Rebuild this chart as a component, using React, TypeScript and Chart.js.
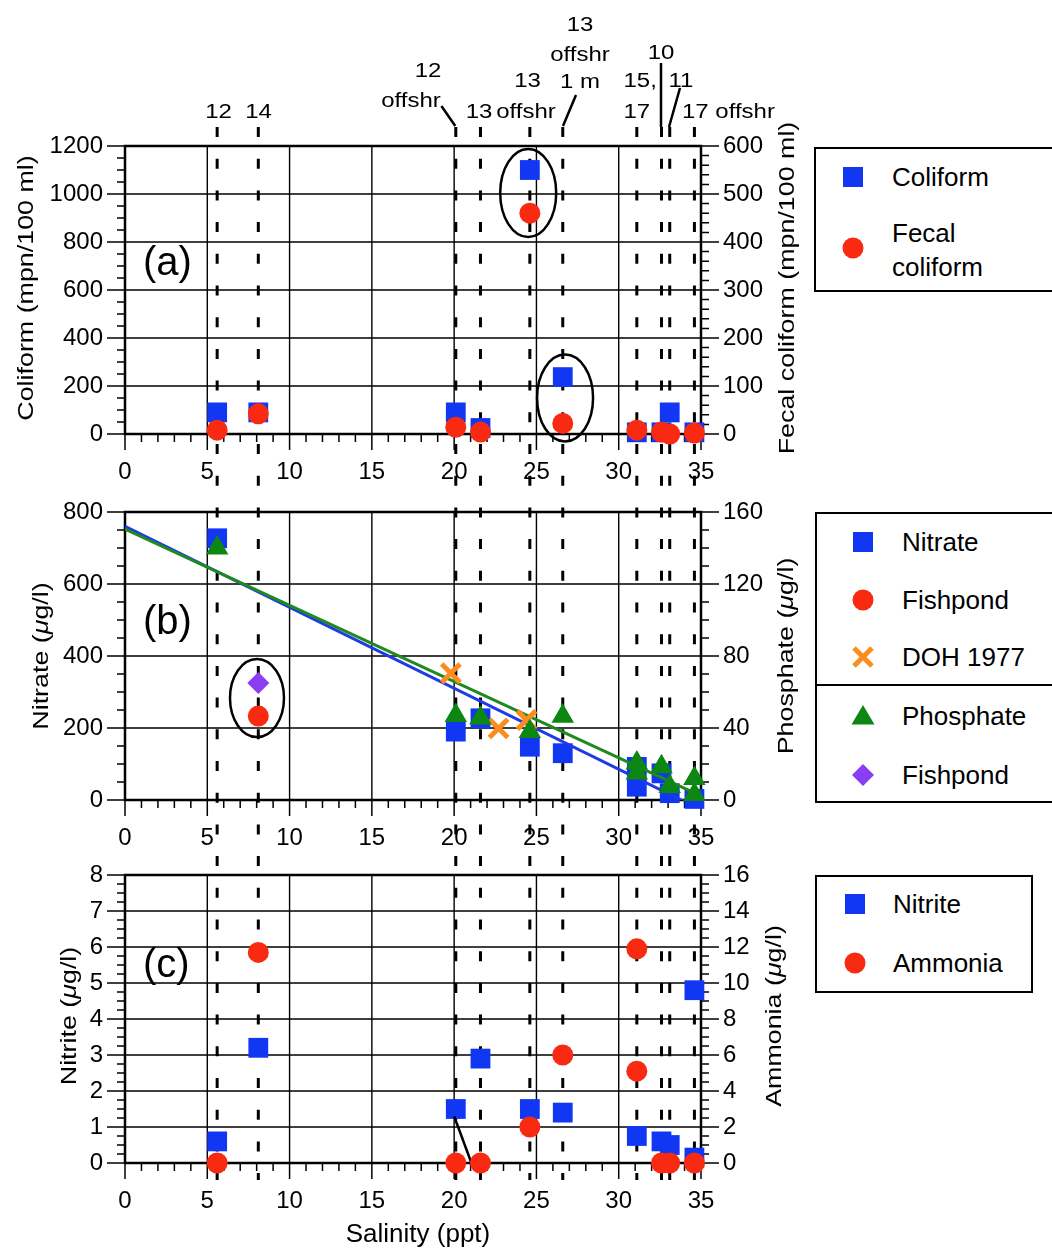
import React, { useEffect, useRef } from 'react';
import { Chart, registerables } from 'chart.js';

Chart.register(...registerables);

const FONT = '"Liberation Sans", Arial, Helvetica, sans-serif';
const BLUE = '#1237f2';
const RED = '#f82a12';
const ORANGE = '#fd8c20';
const GREEN = '#0e8712';
const PURPLE = '#8b3df2';
const LINE_BLUE = '#1e3ce6';
const LINE_GREEN = '#1f8a1f';

// ---------- data ----------
const salinityTicks = [0, 5, 10, 15, 20, 25, 30, 35];
const stationSalinity = [5.6, 8.1, 20.1, 21.6, 24.6, 26.6, 31.1, 32.6, 33.1, 34.6];

// panel (a)
const coliformX = [5.6, 8.1, 20.1, 21.6, 24.6, 26.6, 31.1, 32.6, 33.1, 34.6];
const coliformY = [90, 90, 90, 25, 1100, 237, 7, 7, 90, 7];
const fecalX = [5.6, 8.1, 20.1, 21.6, 24.6, 26.6, 31.1, 32.6, 33.1, 34.6];
const fecalY = [8, 42, 14, 4, 460, 22, 8, 4, 0, 2];

// panel (b)
const nitrateX = [5.6, 20.1, 21.6, 24.6, 26.6, 31.1, 31.1, 32.6, 33.1, 34.6];
const nitrateY = [727, 190, 227, 148, 130, 92, 37, 74, 19, 3];
const fishpondNitrateX = [8.1];
const fishpondNitrateY = [233];
const doh1977X = [19.8, 22.7, 24.4];
const doh1977Y = [352, 199, 222];
const phosphateX = [5.6, 20.1, 21.6, 24.6, 26.6, 31.1, 31.1, 32.6, 33.1, 34.6, 34.6];
const phosphateY = [140, 47, 45.5, 38, 46.5, 20.5, 15, 18.5, 7.5, 12, 3];
const fishpondPhosphateX = [8.1];
const fishpondPhosphateY = [65];
const nitrateFitX = [0, 34.6];
const nitrateFitY = [760, -18];
const phosphateFitX = [0, 34.6];
const phosphateFitY = [150.5, 4];

// panel (c)
const nitriteX = [5.6, 8.1, 20.1, 21.6, 24.6, 26.6, 31.1, 32.6, 33.1, 34.6, 34.6];
const nitriteY = [0.6, 3.2, 1.5, 2.9, 1.5, 1.4, 0.75, 0.6, 0.5, 4.8, 0.15];
const ammoniaX = [5.6, 8.1, 20.1, 21.6, 24.6, 26.6, 31.1, 31.1, 32.6, 33.1, 34.6];
const ammoniaY = [0, 11.7, 0, 0, 2, 6, 11.9, 5.1, 0, 0, 0];
const connectorX = [20.0, 21.05];
const connectorY = [1.3, 0];

// station labels above panel (a)
const stationLabelText = ['12', '14', '12', 'offshr', '13', '13', 'offshr', '13', 'offshr', '1 m', '15,', '17', '10', '11', '17 offshr'];

// ---------- layout ----------
const CW = 810;
const PLOT_LEFT = 125;
const PLOT_RIGHT = 701;
const DASH_TOP = 127;
const DASH_ON = 10;
const DASH_PERIOD = 31.7;

const stationLabelLayout = [
  { x: 218.5, y: 118, a: 'center' },
  { x: 258.6, y: 118, a: 'center' },
  { x: 428, y: 77, a: 'center' },
  { x: 411, y: 107, a: 'center' },
  { x: 479, y: 118, a: 'center' },
  { x: 527.5, y: 87, a: 'center' },
  { x: 526, y: 118, a: 'center' },
  { x: 580, y: 31, a: 'center' },
  { x: 580, y: 61, a: 'center' },
  { x: 580, y: 88, a: 'center' },
  { x: 623.5, y: 87, a: 'left' },
  { x: 623.5, y: 118, a: 'left' },
  { x: 661, y: 59, a: 'center' },
  { x: 681, y: 87, a: 'center' },
  { x: 682, y: 118, a: 'left' },
];
const leaderLines = [
  [441.4, 106, 455.3, 126],
  [576, 95, 563, 126],
  [661, 63, 661, 127],
  [680, 88, 669, 127],
];

type Seg = { t: string; i?: boolean };
type Ell = { x: number; y: number; rx: number; ry: number };

interface PanelSpec {
  key: string;
  top: number;
  height: number;
  areaTop: number;
  areaBottom: number;
  dashFrom: number;
  dashTo: number;
  yMax: number;
  yStep: number;
  yMinor: number;
  y2Max: number;
  y2Step: number;
  y2Minor: number;
  datasets: any[];
  leftTitle: Seg[];
  leftTitleX: number;
  rightTitle: Seg[];
  rightTitleX: number;
  titleCY: number;
  label: string;
  labelCY: number;
  ellipses: Ell[];
  topLabels?: boolean;
  xTitle?: boolean;
}

const pts = (xs: number[], ys: number[]) => xs.map((x, i) => ({ x, y: ys[i] }));

const sq = (label: string, xs: number[], ys: number[], order: number, yAxisID = 'y') => ({
  label, data: pts(xs, ys), yAxisID, order, clip: false,
  pointStyle: 'rect', pointRadius: 14, backgroundColor: BLUE, borderColor: BLUE, borderWidth: 0,
});
const circ = (label: string, xs: number[], ys: number[], order: number, yAxisID = 'y', color = RED) => ({
  label, data: pts(xs, ys), yAxisID, order, clip: false,
  pointStyle: 'circle', pointRadius: 10.5, backgroundColor: color, borderColor: color, borderWidth: 0,
});

function drawRich(
  ctx: CanvasRenderingContext2D, segs: Seg[], x: number, y: number, size: number,
  rotate: boolean, stretch = 1,
) {
  ctx.save();
  ctx.translate(x, y);
  if (rotate) ctx.rotate(-Math.PI / 2);
  ctx.scale(stretch, 1);
  let total = 0;
  const widths: number[] = [];
  for (const s of segs) {
    ctx.font = `${s.i ? 'italic ' : ''}${size}px ${FONT}`;
    const w = ctx.measureText(s.t).width;
    widths.push(w);
    total += w;
  }
  let cx = -total / 2;
  ctx.textBaseline = 'middle';
  ctx.textAlign = 'left';
  ctx.fillStyle = '#000';
  segs.forEach((s, i) => {
    ctx.font = `${s.i ? 'italic ' : ''}${size}px ${FONT}`;
    ctx.fillText(s.t, cx, 0);
    cx += widths[i];
  });
  ctx.restore();
}

function makePlugin(spec: PanelSpec) {
  return {
    id: 'frame_' + spec.key,
    beforeDatasetsDraw(chart: any) {
      const ctx: CanvasRenderingContext2D = chart.ctx;
      const { left, right, top, bottom } = chart.chartArea;
      const xs = chart.scales.x;
      const y1 = chart.scales.y;
      const y2 = chart.scales.y2;
      ctx.save();
      ctx.strokeStyle = '#000';
      // grid lines
      ctx.lineWidth = 1.4;
      ctx.beginPath();
      for (const v of salinityTicks) {
        if (v <= 0 || v >= 35) continue;
        const px = xs.getPixelForValue(v);
        ctx.moveTo(px, top);
        ctx.lineTo(px, bottom);
      }
      const nY = Math.round(spec.yMax / spec.yStep);
      for (let i = 1; i < nY; i++) {
        const py = y1.getPixelForValue(i * spec.yStep);
        ctx.moveTo(left, py);
        ctx.lineTo(right, py);
      }
      ctx.stroke();
      // tick marks
      ctx.lineWidth = 1.5;
      ctx.beginPath();
      const nL = Math.round(spec.yMax / spec.yMinor);
      const perL = Math.round(spec.yStep / spec.yMinor);
      for (let i = 0; i <= nL; i++) {
        const py = y1.getPixelForValue(i * spec.yMinor);
        const len = i % perL === 0 ? 18 : 8;
        ctx.moveTo(left - len, py);
        ctx.lineTo(left, py);
      }
      const nR = Math.round(spec.y2Max / spec.y2Minor);
      const perR = Math.round(spec.y2Step / spec.y2Minor);
      for (let i = 0; i <= nR; i++) {
        const py = y2.getPixelForValue(i * spec.y2Minor);
        const len = i % perR === 0 ? 18 : 8;
        ctx.moveTo(right, py);
        ctx.lineTo(right + len, py);
      }
      for (let v = 0; v <= 35; v++) {
        const px = xs.getPixelForValue(v);
        const len = v % 5 === 0 ? 16 : 8;
        ctx.moveTo(px, bottom);
        ctx.lineTo(px, bottom + len);
      }
      ctx.stroke();
      // dashed station lines across the whole figure
      const gStart = spec.dashFrom;
      const gEnd = spec.dashTo;
      if (gEnd > gStart) {
        ctx.lineWidth = 3;
        ctx.setLineDash([DASH_ON, DASH_PERIOD - DASH_ON]);
        ctx.lineDashOffset = ((gStart - DASH_TOP) % DASH_PERIOD + DASH_PERIOD) % DASH_PERIOD;
        ctx.beginPath();
        for (const s of stationSalinity) {
          const px = xs.getPixelForValue(s);
          ctx.moveTo(px, gStart - spec.top);
          ctx.lineTo(px, gEnd - spec.top);
        }
        ctx.stroke();
        ctx.setLineDash([]);
      }
      // frame
      ctx.lineWidth = 2.5;
      ctx.strokeRect(left, top, right - left, bottom - top);
      ctx.restore();
    },
    afterDatasetsDraw(chart: any) {
      const ctx: CanvasRenderingContext2D = chart.ctx;
      const xs = chart.scales.x;
      const y1 = chart.scales.y;
      ctx.save();
      ctx.strokeStyle = '#000';
      ctx.lineWidth = 2.5;
      for (const e of spec.ellipses) {
        ctx.beginPath();
        ctx.ellipse(xs.getPixelForValue(e.x), y1.getPixelForValue(e.y), e.rx, e.ry, 0, 0, Math.PI * 2);
        ctx.stroke();
      }
      ctx.restore();
    },
    afterDraw(chart: any) {
      const ctx: CanvasRenderingContext2D = chart.ctx;
      const { left, right } = chart.chartArea;
      const off = spec.top;
      drawRich(ctx, spec.leftTitle, spec.leftTitleX, spec.titleCY - off, 22, true, 1.22);
      drawRich(ctx, spec.rightTitle, spec.rightTitleX, spec.titleCY - off, 22, true, 1.22);
      ctx.save();
      ctx.fillStyle = '#000';
      ctx.font = `40px ${FONT}`;
      ctx.textAlign = 'left';
      ctx.textBaseline = 'middle';
      ctx.fillText(spec.label, left + 18, spec.labelCY - off);
      ctx.restore();
      if (spec.xTitle) {
        drawRich(ctx, [{ t: 'Salinity (ppt)' }], (left + right) / 2 + 5, 1235 - off, 26, false);
      }
      if (spec.topLabels) {
        ctx.save();
        ctx.fillStyle = '#000';
        ctx.font = `24px ${FONT}`;
        ctx.textBaseline = 'alphabetic';
        stationLabelText.forEach((t, i) => {
          const l = stationLabelLayout[i];
          ctx.save();
          ctx.translate(l.x, l.y - off);
          ctx.scale(1, 0.87);
          ctx.textAlign = l.a as CanvasTextAlign;
          ctx.fillText(t, 0, 0);
          ctx.restore();
        });
        ctx.strokeStyle = '#000';
        ctx.lineWidth = 2.5;
        ctx.beginPath();
        for (const [x1, yA, x2, yB] of leaderLines) {
          ctx.moveTo(x1, yA - off);
          ctx.lineTo(x2, yB - off);
        }
        ctx.stroke();
        ctx.restore();
      }
    },
  };
}

const plainTick = (v: any) => String(v);

function buildConfig(spec: PanelSpec): any {
  const tickFont = { family: FONT, size: 24 };
  const grid = { display: false, drawTicks: false };
  return {
    type: 'scatter',
    data: { datasets: spec.datasets },
    options: {
      responsive: false,
      animation: false,
      events: [],
      layout: { padding: { top: spec.areaTop - spec.top, left: 0, right: 0, bottom: 0 } },
      plugins: { legend: { display: false }, tooltip: { enabled: false } },
      scales: {
        x: {
          type: 'linear', position: 'bottom', min: 0, max: 35,
          ticks: { stepSize: 5, font: tickFont, color: '#000', padding: 24, maxRotation: 0, autoSkip: false, callback: plainTick },
          grid, border: { display: false },
          afterFit: (s: any) => { s.height = spec.top + spec.height - spec.areaBottom; },
        },
        y: {
          type: 'linear', position: 'left', min: 0, max: spec.yMax,
          ticks: { stepSize: spec.yStep, font: tickFont, color: '#000', padding: 22, callback: plainTick },
          grid, border: { display: false },
          afterFit: (s: any) => { s.width = PLOT_LEFT; },
        },
        y2: {
          type: 'linear', position: 'right', min: 0, max: spec.y2Max,
          ticks: { stepSize: spec.y2Step, font: tickFont, color: '#000', padding: 22, callback: plainTick },
          grid, border: { display: false },
          afterFit: (s: any) => { s.width = CW - PLOT_RIGHT; },
        },
      },
    },
    plugins: [makePlugin(spec)],
  };
}

const specA: PanelSpec = {
  key: 'a', top: 0, height: 490, areaTop: 146, areaBottom: 434, dashFrom: 127, dashTo: 490,
  yMax: 1200, yStep: 200, yMinor: 50, y2Max: 600, y2Step: 100, y2Minor: 20,
  datasets: [
    circ('Fecal coliform', fecalX, fecalY, 0, 'y2'),
    sq('Coliform', coliformX, coliformY, 1),
  ],
  leftTitle: [{ t: 'Coliform (mpn/100 ml)' }], leftTitleX: 27,
  rightTitle: [{ t: 'Fecal coliform (mpn/100 ml)' }], rightTitleX: 788,
  titleCY: 288, label: '(a)', labelCY: 264,
  ellipses: [
    { x: 24.5, y: 1004, rx: 28, ry: 44 },
    { x: 26.74, y: 150, rx: 28, ry: 43.5 },
  ],
  topLabels: true,
};

const specB: PanelSpec = {
  key: 'b', top: 452, height: 398, areaTop: 512, areaBottom: 800, dashFrom: 490, dashTo: 850,
  yMax: 800, yStep: 200, yMinor: 50, y2Max: 160, y2Step: 40, y2Minor: 10,
  datasets: [
    {
      label: 'Phosphate', data: pts(phosphateX, phosphateY), yAxisID: 'y2', order: 0, clip: false,
      pointStyle: 'triangle', pointRadius: 13, backgroundColor: GREEN, borderColor: GREEN, borderWidth: 0,
    },
    {
      label: 'Fishpond phosphate', data: pts(fishpondPhosphateX, fishpondPhosphateY), yAxisID: 'y2', order: 1, clip: false,
      pointStyle: 'rectRot', pointRadius: 11, backgroundColor: PURPLE, borderColor: PURPLE, borderWidth: 0,
    },
    {
      label: 'DOH 1977', data: pts(doh1977X, doh1977Y), yAxisID: 'y', order: 2, clip: false,
      pointStyle: 'crossRot', pointRadius: 13, backgroundColor: ORANGE, borderColor: ORANGE, borderWidth: 5,
    },
    {
      label: 'Phosphate fit', data: pts(phosphateFitX, phosphateFitY), yAxisID: 'y2', order: 3,
      showLine: true, pointRadius: 0, borderColor: LINE_GREEN, borderWidth: 3,
    },
    {
      label: 'Nitrate fit', data: pts(nitrateFitX, nitrateFitY), yAxisID: 'y', order: 4,
      showLine: true, pointRadius: 0, borderColor: LINE_BLUE, borderWidth: 3,
    },
    circ('Fishpond nitrate', fishpondNitrateX, fishpondNitrateY, 5, 'y'),
    sq('Nitrate', nitrateX, nitrateY, 6),
  ],
  leftTitle: [{ t: 'Nitrate (' }, { t: 'μ', i: true }, { t: 'g/l)' }], leftTitleX: 42,
  rightTitle: [{ t: 'Phosphate (' }, { t: 'μ', i: true }, { t: 'g/l)' }], rightTitleX: 787,
  titleCY: 656, label: '(b)', labelCY: 623,
  ellipses: [{ x: 8.02, y: 283, rx: 27, ry: 39 }],
};

const specC: PanelSpec = {
  key: 'c', top: 815, height: 434, areaTop: 875, areaBottom: 1163, dashFrom: 850, dashTo: 1180,
  yMax: 8, yStep: 1, yMinor: 0.25, y2Max: 16, y2Step: 2, y2Minor: 0.5,
  datasets: [
    circ('Ammonia', ammoniaX, ammoniaY, 0, 'y2'),
    {
      label: 'connector', data: pts(connectorX, connectorY), yAxisID: 'y', order: 1,
      showLine: true, pointRadius: 0, borderColor: '#000', borderWidth: 2.5,
    },
    sq('Nitrite', nitriteX, nitriteY, 2),
  ],
  leftTitle: [{ t: 'Nitrite (' }, { t: 'μ', i: true }, { t: 'g/l)' }], leftTitleX: 70,
  rightTitle: [{ t: 'Ammonia (' }, { t: 'μ', i: true }, { t: 'g/l)' }], rightTitleX: 775,
  titleCY: 1016, label: '(c)', labelCY: 966,
  ellipses: [],
  xTitle: true,
};

function Panel({ spec }: { spec: PanelSpec }) {
  const ref = useRef<HTMLCanvasElement>(null);
  useEffect(() => {
    const chart = new Chart(ref.current as HTMLCanvasElement, buildConfig(spec));
    return () => chart.destroy();
  }, []);
  return (
    <canvas
      ref={ref}
      width={CW}
      height={spec.height}
      style={{ position: 'absolute', left: 0, top: spec.top, width: CW, height: spec.height }}
    />
  );
}

type MarkerKind = 'square' | 'circle' | 'cross' | 'triangle' | 'diamond';

function Marker({ kind, color, cx, cy }: { kind: MarkerKind; color: string; cx: number; cy: number }) {
  const s = 26;
  let shape: any = null;
  if (kind === 'square') shape = <rect x={3} y={3} width={20} height={20} fill={color} />;
  if (kind === 'circle') shape = <circle cx={13} cy={13} r={10.5} fill={color} />;
  if (kind === 'cross')
    shape = (
      <g stroke={color} strokeWidth={5}>
        <line x1={4} y1={4} x2={22} y2={22} />
        <line x1={22} y1={4} x2={4} y2={22} />
      </g>
    );
  if (kind === 'triangle') shape = <polygon points="13,2 24.5,21.5 1.5,21.5" fill={color} />;
  if (kind === 'diamond') shape = <polygon points="13,2 24,13 13,24 2,13" fill={color} />;
  return (
    <svg width={s} height={s} style={{ position: 'absolute', left: cx - s / 2, top: cy - s / 2 }}>
      {shape}
    </svg>
  );
}

const legendTextStyle = (x: number, cy: number): React.CSSProperties => ({
  position: 'absolute', left: x, top: cy - 15, height: 30, lineHeight: '30px',
  fontFamily: FONT, fontSize: 26, color: '#000', whiteSpace: 'nowrap',
});

const boxStyle = (l: number, t: number, r: number, b: number): React.CSSProperties => ({
  position: 'absolute', left: l, top: t, width: r - l, height: b - t,
  border: '2px solid #000', boxSizing: 'border-box', background: '#fff',
});

function Legends() {
  return (
    <>
      <div style={boxStyle(814, 147, 1060, 292)} />
      <Marker kind="square" color={BLUE} cx={853} cy={177} />
      <div style={legendTextStyle(892, 177)}>Coliform</div>
      <Marker kind="circle" color={RED} cx={853} cy={248} />
      <div style={legendTextStyle(892, 233)}>Fecal</div>
      <div style={legendTextStyle(892, 267)}>coliform</div>

      <div style={boxStyle(815, 512, 1060, 803)} />
      <div style={{ position: 'absolute', left: 815, top: 684, width: 245, height: 2, background: '#000' }} />
      <Marker kind="square" color={BLUE} cx={863} cy={542} />
      <div style={legendTextStyle(902, 542)}>Nitrate</div>
      <Marker kind="circle" color={RED} cx={863} cy={600} />
      <div style={legendTextStyle(902, 600)}>Fishpond</div>
      <Marker kind="cross" color={ORANGE} cx={863} cy={657} />
      <div style={legendTextStyle(902, 657)}>DOH 1977</div>
      <Marker kind="triangle" color={GREEN} cx={863} cy={716} />
      <div style={legendTextStyle(902, 716)}>Phosphate</div>
      <Marker kind="diamond" color={PURPLE} cx={863} cy={775} />
      <div style={legendTextStyle(902, 775)}>Fishpond</div>

      <div style={boxStyle(815, 875, 1033, 993)} />
      <Marker kind="square" color={BLUE} cx={855} cy={904} />
      <div style={legendTextStyle(893, 904)}>Nitrite</div>
      <Marker kind="circle" color={RED} cx={855} cy={963} />
      <div style={legendTextStyle(893, 963)}>Ammonia</div>
    </>
  );
}

export default function App() {
  return (
    <div
      style={{
        position: 'absolute', left: 0, top: 0, width: 1052, height: 1249,
        overflow: 'hidden', background: '#fff',
      }}
    >
      <Panel spec={specA} />
      <Panel spec={specB} />
      <Panel spec={specC} />
      <Legends />
    </div>
  );
}
